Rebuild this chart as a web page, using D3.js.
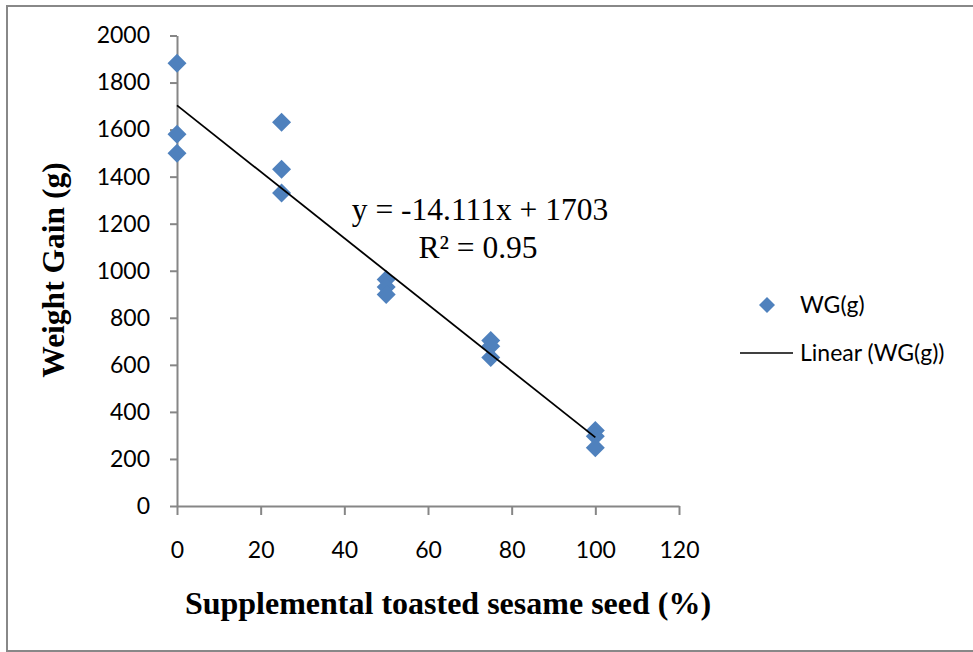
<!DOCTYPE html>
<html>
<head>
<meta charset="utf-8">
<script src="https://cdn.jsdelivr.net/npm/d3@7"></script>
<style>
  body { margin: 0; background: #fff; }
  .tick text { font-family: Lato, "Open Sans", sans-serif; font-size: 23px; fill: #000; }
  .tick line, .domain { stroke: #868686; stroke-width: 2px; }
  .serif { font-family: "Liberation Serif", "Times New Roman", serif; fill: #000; }
  .legText { font-family: Lato, "Open Sans", sans-serif; font-size: 23px; fill: #000; }
</style>
</head>
<body>
<script>
// supplemental toasted sesame seed (%) and weight gain (g), three birds per level
var dose = [0, 0, 0, 25, 25, 25, 50, 50, 50, 75, 75, 75, 100, 100, 100];
var weightGain = [1882, 1580, 1499, 1631, 1431, 1331, 963, 931, 899, 704, 679, 631, 321, 296, 248];
// linear trendline as printed on the chart
var slope = -14.111;
var intercept = 1703;
var trendRange = [0, 100];
var xTicks = [0, 20, 40, 60, 80, 100, 120];
var yTicks = [0, 200, 400, 600, 800, 1000, 1200, 1400, 1600, 1800, 2000];

var width = 973, height = 652;
var blue = "#4F81BD";

var svg = d3.select("body").append("svg")
    .attr("width", width)
    .attr("height", height);

// outer chart border
svg.append("rect")
   .attr("x", 7).attr("y", 6)
   .attr("width", 980).attr("height", 645)
   .attr("fill", "#fff")
   .attr("stroke", "#888")
   .attr("stroke-width", 2);

var xScale = d3.scaleLinear().domain([0, 120]).range([177, 679]);
var yScale = d3.scaleLinear().domain([0, 2000]).range([506, 35.5]);

// y axis
svg.append("g")
   .attr("transform", "translate(" + xScale(0) + ",0)")
   .call(d3.axisLeft(yScale).tickValues(yTicks).tickFormat(d3.format("d"))
           .tickSizeInner(7).tickSizeOuter(0).tickPadding(20));

// x axis
svg.append("g")
   .attr("transform", "translate(0," + yScale(0) + ")")
   .call(d3.axisBottom(xScale).tickValues(xTicks).tickFormat(d3.format("d"))
           .tickSizeInner(9).tickSizeOuter(0).tickPadding(27));

// diamond marker path
var diamond = function(r){
    return "M0," + (-r) + "L" + r + ",0L0," + r + "L" + (-r) + ",0Z";
};

// scatter points
svg.append("g")
   .selectAll("path")
   .data(dose.map(function(d, i){ return {x: d, y: weightGain[i]}; }))
   .enter()
   .append("path")
   .attr("d", diamond(9.5))
   .attr("transform", function(d){
       return "translate(" + xScale(d.x) + "," + yScale(d.y) + ")";
   })
   .attr("fill", blue);

// trendline
var line = d3.line()
    .x(function(d){ return xScale(d); })
    .y(function(d){ return yScale(intercept + slope * d); });
svg.append("path")
   .attr("d", line(trendRange))
   .attr("fill", "none")
   .attr("stroke", "#000")
   .attr("stroke-width", 1.8);

// equation labels
svg.append("text")
   .attr("class", "serif")
   .attr("x", 480).attr("y", 220)
   .attr("text-anchor", "middle")
   .style("font-size", "31.5px")
   .text("y = -14.111x + 1703");
svg.append("text")
   .attr("class", "serif")
   .attr("x", 478).attr("y", 258)
   .attr("text-anchor", "middle")
   .style("font-size", "31.5px")
   .text("R² = 0.95");

// axis titles
svg.append("text")
   .attr("class", "serif")
   .attr("transform", "translate(64,270) rotate(-90)")
   .attr("text-anchor", "middle")
   .style("font-size", "31.5px")
   .style("font-weight", "bold")
   .text("Weight Gain (g)");
svg.append("text")
   .attr("class", "serif")
   .attr("x", 448).attr("y", 614)
   .attr("text-anchor", "middle")
   .style("font-size", "32px")
   .style("font-weight", "bold")
   .text("Supplemental toasted sesame seed (%)");

// legend
svg.append("path")
   .attr("d", diamond(8))
   .attr("transform", "translate(767,305)")
   .attr("fill", blue);
svg.append("text")
   .attr("class", "legText")
   .attr("x", 800).attr("y", 313)
   .text("WG(g)");
svg.append("line")
   .attr("x1", 740).attr("x2", 793)
   .attr("y1", 353).attr("y2", 353)
   .attr("stroke", "#000")
   .attr("stroke-width", 1.5);
svg.append("text")
   .attr("class", "legText")
   .attr("x", 800).attr("y", 361)
   .text("Linear (WG(g))");
</script>
</body>
</html>
